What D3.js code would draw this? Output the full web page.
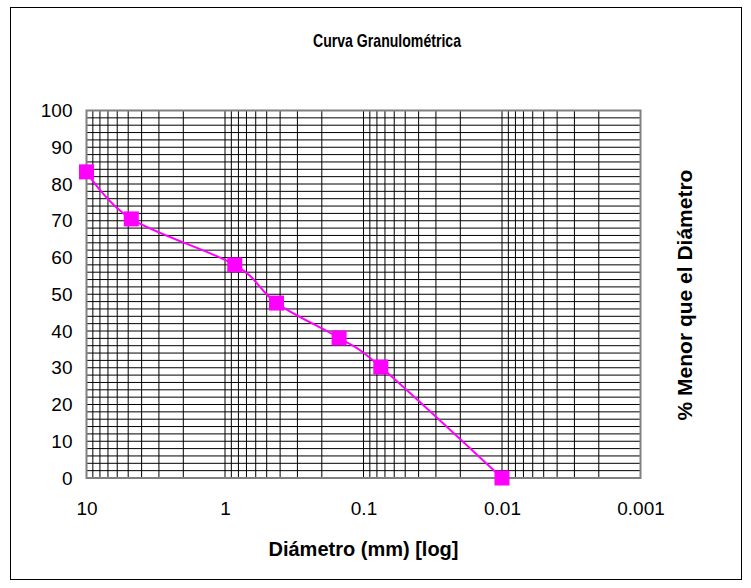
<!DOCTYPE html>
<html>
<head>
<meta charset="utf-8">
<script src="https://cdn.jsdelivr.net/npm/d3@7"></script>
<style>
  body { margin: 0; background: #fff; }
  svg text { font-family: "Liberation Sans", Arial, sans-serif; fill: #000; }
</style>
</head>
<body>
<div id="chart"></div>
<script>
// data
const diameters = [10, 4.75, 0.85, 0.425, 0.15, 0.075, 0.01];
const percentFiner = [83.3, 70.5, 58.0, 47.6, 38.1, 30.2, 0];
const xTicks = [10, 1, 0.1, 0.01, 0.001];
const xTickLabels = ["10", "1", "0.1", "0.01", "0.001"];
const yTicks = [0, 10, 20, 30, 40, 50, 60, 70, 80, 90, 100];

const W = 751, H = 588;
const plot = { left: 86.5, right: 640.5, top: 110.5, bottom: 478 };

const svg = d3.select("#chart").append("svg")
  .attr("width", W)
  .attr("height", H);

// outer chart frame
svg.append("rect")
  .attr("x", 10.5).attr("y", 7.5)
  .attr("width", 731).attr("height", 572)
  .attr("fill", "#fff")
  .attr("stroke", "#000")
  .attr("stroke-width", 1);

const x = d3.scaleLog().domain([10, 0.001]).range([plot.left, plot.right]);
const y = d3.scaleLinear().domain([0, 100]).range([plot.bottom, plot.top]);

// grid: log minors for x, every 2 % for y
const xGrid = [];
for (let k = -3; k <= 0; k++) {
  for (let m = 1; m <= 9; m++) xGrid.push(m * Math.pow(10, k));
}
xGrid.push(10);
const yGrid = d3.range(0, 101, 2);

const grid = svg.append("g").attr("class", "grid");
grid.selectAll("line.v").data(xGrid).join("line")
  .attr("class", "v")
  .attr("x1", d => x(d)).attr("x2", d => x(d))
  .attr("y1", plot.top).attr("y2", plot.bottom)
  .attr("stroke", "#000").attr("stroke-width", 1);
grid.selectAll("line.h").data(yGrid).join("line")
  .attr("class", "h")
  .attr("x1", plot.left).attr("x2", plot.right)
  .attr("y1", d => y(d)).attr("y2", d => y(d))
  .attr("stroke", "#000").attr("stroke-width", 1);

// plot area border
svg.append("rect")
  .attr("x", plot.left).attr("y", plot.top)
  .attr("width", plot.right - plot.left)
  .attr("height", plot.bottom - plot.top)
  .attr("fill", "none")
  .attr("stroke", "#808080")
  .attr("stroke-width", 2);

// axes (labels only)
const xAxis = svg.append("g")
  .attr("transform", `translate(0,${plot.bottom + 18})`)
  .call(d3.axisBottom(x).tickValues(xTicks)
    .tickFormat((d, i) => xTickLabels[i]).tickSize(0).tickPadding(6));
xAxis.select(".domain").remove();
xAxis.selectAll("text").style("font-size", "19px").style("font-family", "Liberation Sans, Arial, sans-serif");

const yAxis = svg.append("g")
  .attr("transform", `translate(${plot.left - 14},0)`)
  .call(d3.axisLeft(y).tickValues(yTicks).tickSize(0).tickPadding(0));
yAxis.select(".domain").remove();
yAxis.selectAll("text").style("font-size", "19px").style("font-family", "Liberation Sans, Arial, sans-serif");

// series
const pts = diameters.map((d, i) => [d, percentFiner[i]]);
svg.append("path")
  .datum(pts)
  .attr("fill", "none")
  .attr("stroke", "#ff00ff")
  .attr("stroke-width", 2)
  .attr("d", d3.line().x(d => x(d[0])).y(d => y(d[1])).curve(d3.curveCatmullRom.alpha(0)));

const ms = 15;
svg.selectAll("rect.marker").data(pts).join("rect")
  .attr("class", "marker")
  .attr("x", d => x(d[0]) - ms / 2)
  .attr("y", d => y(d[1]) - ms / 2)
  .attr("width", ms).attr("height", ms)
  .attr("fill", "#ff00ff");

// titles
svg.append("text")
  .attr("x", 387).attr("y", 47)
  .attr("text-anchor", "middle")
  .style("font-size", "19px").style("font-weight", "bold")
  .attr("textLength", 148).attr("lengthAdjust", "spacingAndGlyphs")
  .text("Curva Granulométrica");

svg.append("text")
  .attr("x", 363.5).attr("y", 556)
  .attr("text-anchor", "middle")
  .style("font-size", "20px").style("font-weight", "bold")
  .text("Diámetro (mm) [log]");

svg.append("text")
  .attr("transform", "translate(692,295) rotate(-90)")
  .attr("text-anchor", "middle")
  .style("font-size", "21px").style("font-weight", "bold")
  .text("% Menor que el Diámetro");
</script>
</body>
</html>
